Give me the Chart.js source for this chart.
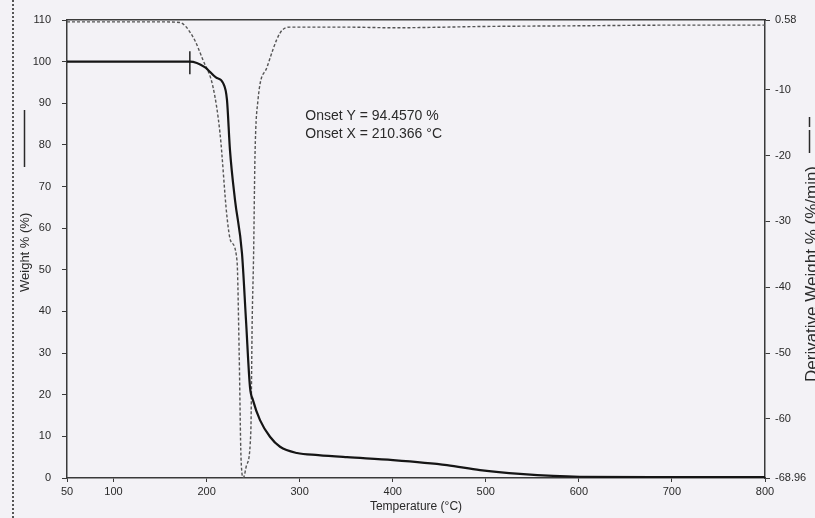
<!DOCTYPE html>
<html>
<head>
<meta charset="utf-8">
<script src="https://cdn.jsdelivr.net/npm/chart.js@4.4.1/dist/chart.umd.min.js"></script>
<style>
  html, body { margin: 0; padding: 0; background: #f3f2f6; }
  #wrap { position: relative; width: 815px; height: 518px; overflow: hidden; }
  #frameLine { position: absolute; left: 12px; top: 0; height: 518px; border-left: 2px dotted #555; }
  canvas { position: absolute; left: 0; top: 0; }
</style>
</head>
<body>
<div id="wrap">
  <div id="frameLine"></div>
  <canvas id="c" width="815" height="518"></canvas>
</div>
<script>
// ---- data ----
const weightT   = [50, 100, 150, 182, 198, 210, 217.6, 221.9, 225.1, 230.5, 238, 242.3, 246.6, 249.8, 257.4, 268.1, 278.9, 297.1, 320, 350.8, 400.3, 458.3, 493.8, 536.7, 601, 700, 800];
const weightPct = [100, 100, 100, 100, 98.7, 96.2, 94.9, 90.8, 78.8, 66.8, 54, 38, 21.9, 18.7, 13.9, 9.9, 7.5, 6.0, 5.5, 5.0, 4.3, 3.1, 1.9, 1.0, 0.3, 0.2, 0.2];

const derivT   = [50, 100, 150, 171, 185.4, 196.1, 206.9, 214.4, 221.9, 226, 232.7, 235, 237, 239.5, 243, 247.5, 249, 250.5, 252, 255.2, 264.9, 278.9, 289.6, 350, 400, 500, 600, 700, 800];
const derivVal = [0.3, 0.3, 0.3, 0.2, -2.0, -5.5, -9.6, -16.6, -29.3, -33, -36, -50, -66, -68.9, -67, -62, -45, -35, -20, -11.6, -6.6, -1.4, -0.5, -0.5, -0.6, -0.4, -0.3, -0.2, -0.2];

const onsetMarkT   = [182, 182];
const onsetMarkPct = [102.5, 97];

const xTicks  = [50, 100, 200, 300, 400, 500, 600, 700, 800];
const yTicks  = [0, 10, 20, 30, 40, 50, 60, 70, 80, 90, 100, 110];
const y1Ticks = [0.58, -10, -20, -30, -40, -50, -60, -68.96];

const onsetLines = ["Onset Y = 94.4570 %", "Onset X = 210.366 \u00B0C"];
const xTitle = "Temperature (\u00B0C)";
const yTitle = "Weight % (%)";
const y1Title = "Derivative Weight % (%/min)";

const zip = (xs, ys) => xs.map((x, i) => ({x, y: ys[i]}));
const FONT = "'Liberation Sans', Arial, sans-serif";
const INK = '#2a2a2a';

const textPlugin = {
  id: 'texts',
  afterDraw(chart) {
    const {ctx, scales} = chart;
    ctx.save();
    ctx.fillStyle = INK;
    // onset annotation
    ctx.font = '14px ' + FONT;
    ctx.textAlign = 'left';
    ctx.textBaseline = 'middle';
    const ax = scales.x.getPixelForValue(306);
    ctx.fillText(onsetLines[0], ax, scales.y.getPixelForValue(86.9));
    ctx.fillText(onsetLines[1], ax, scales.y.getPixelForValue(82.5));
    // left title (bottom to top)
    ctx.save();
    ctx.translate(25, 292);
    ctx.rotate(-Math.PI / 2);
    ctx.font = '13px ' + FONT;
    ctx.textAlign = 'left';
    ctx.fillText(yTitle, 0, 0);
    ctx.restore();
    ctx.strokeStyle = INK; ctx.lineWidth = 1.5;
    ctx.beginPath(); ctx.moveTo(24.5, 167); ctx.lineTo(24.5, 110); ctx.stroke();
    // right title (bottom to top)
    ctx.save();
    ctx.translate(812, 382);
    ctx.rotate(-Math.PI / 2);
    ctx.font = '17px ' + FONT;
    ctx.textAlign = 'left';
    ctx.fillText(y1Title, 0, 0);
    ctx.restore();
    ctx.beginPath(); ctx.moveTo(809.5, 153); ctx.lineTo(809.5, 130); ctx.stroke();
    ctx.beginPath(); ctx.moveTo(809.5, 127); ctx.lineTo(809.5, 117); ctx.stroke();
    ctx.restore();
  }
};

const borderStyle = { display: true, color: '#3a3a3a', width: 1.5, dash: [2, 2] };

new Chart(document.getElementById('c'), {
  type: 'line',
  data: {
    datasets: [
      { label: 'Weight', data: zip(weightT, weightPct), yAxisID: 'y', borderColor: '#151515', borderWidth: 2.2, pointRadius: 0, cubicInterpolationMode: 'monotone' },
      { label: 'Derivative', data: zip(derivT, derivVal), yAxisID: 'y1', borderColor: '#555', borderWidth: 1.4, borderDash: [3, 2], pointRadius: 0, cubicInterpolationMode: 'monotone' },
      { label: 'Mark', data: zip(onsetMarkT, onsetMarkPct), yAxisID: 'y', borderColor: '#222', borderWidth: 1.5, pointRadius: 0 }
    ]
  },
  options: {
    responsive: false,
    animation: false,
    layout: { padding: { top: 20, left: 0, right: 0, bottom: 0 } },
    plugins: { legend: { display: false }, tooltip: { enabled: false } },
    scales: {
      x: {
        type: 'linear', min: 50, max: 800, position: 'bottom',
        afterBuildTicks: s => { s.ticks = xTicks.map(v => ({value: v})); },
        afterFit: s => { s.height = 40; },
        ticks: { autoSkip: false, maxRotation: 0, padding: 3, color: INK, font: { family: FONT, size: 11 } },
        grid: { display: true, drawOnChartArea: false, tickLength: 4, color: '#3a3a3a' },
        border: borderStyle,
        title: { display: true, text: xTitle, color: INK, font: { family: FONT, size: 12 }, padding: { top: 0, bottom: 4 } }
      },
      x2: {
        type: 'linear', min: 50, max: 800, position: 'top',
        ticks: { display: false },
        grid: { display: false },
        afterFit: s => { s.height = 0; },
        border: borderStyle
      },
      y: {
        type: 'linear', min: 0, max: 110, position: 'left',
        afterBuildTicks: s => { s.ticks = yTicks.map(v => ({value: v})); },
        afterFit: s => { s.width = 67; },
        ticks: { padding: 11, color: INK, font: { family: FONT, size: 11 } },
        grid: { display: true, drawOnChartArea: false, tickLength: 5, color: '#3a3a3a' },
        border: borderStyle
      },
      y1: {
        type: 'linear', min: -68.96, max: 0.58, position: 'right',
        afterBuildTicks: s => { s.ticks = y1Ticks.map(v => ({value: v})); },
        afterFit: s => { s.width = 50; },
        ticks: { padding: 5, color: INK, font: { family: FONT, size: 11 }, callback: v => String(v) },
        grid: { display: true, drawOnChartArea: false, tickLength: 5, color: '#3a3a3a' },
        border: borderStyle
      }
    }
  },
  plugins: [textPlugin]
});
</script>
</body>
</html>
